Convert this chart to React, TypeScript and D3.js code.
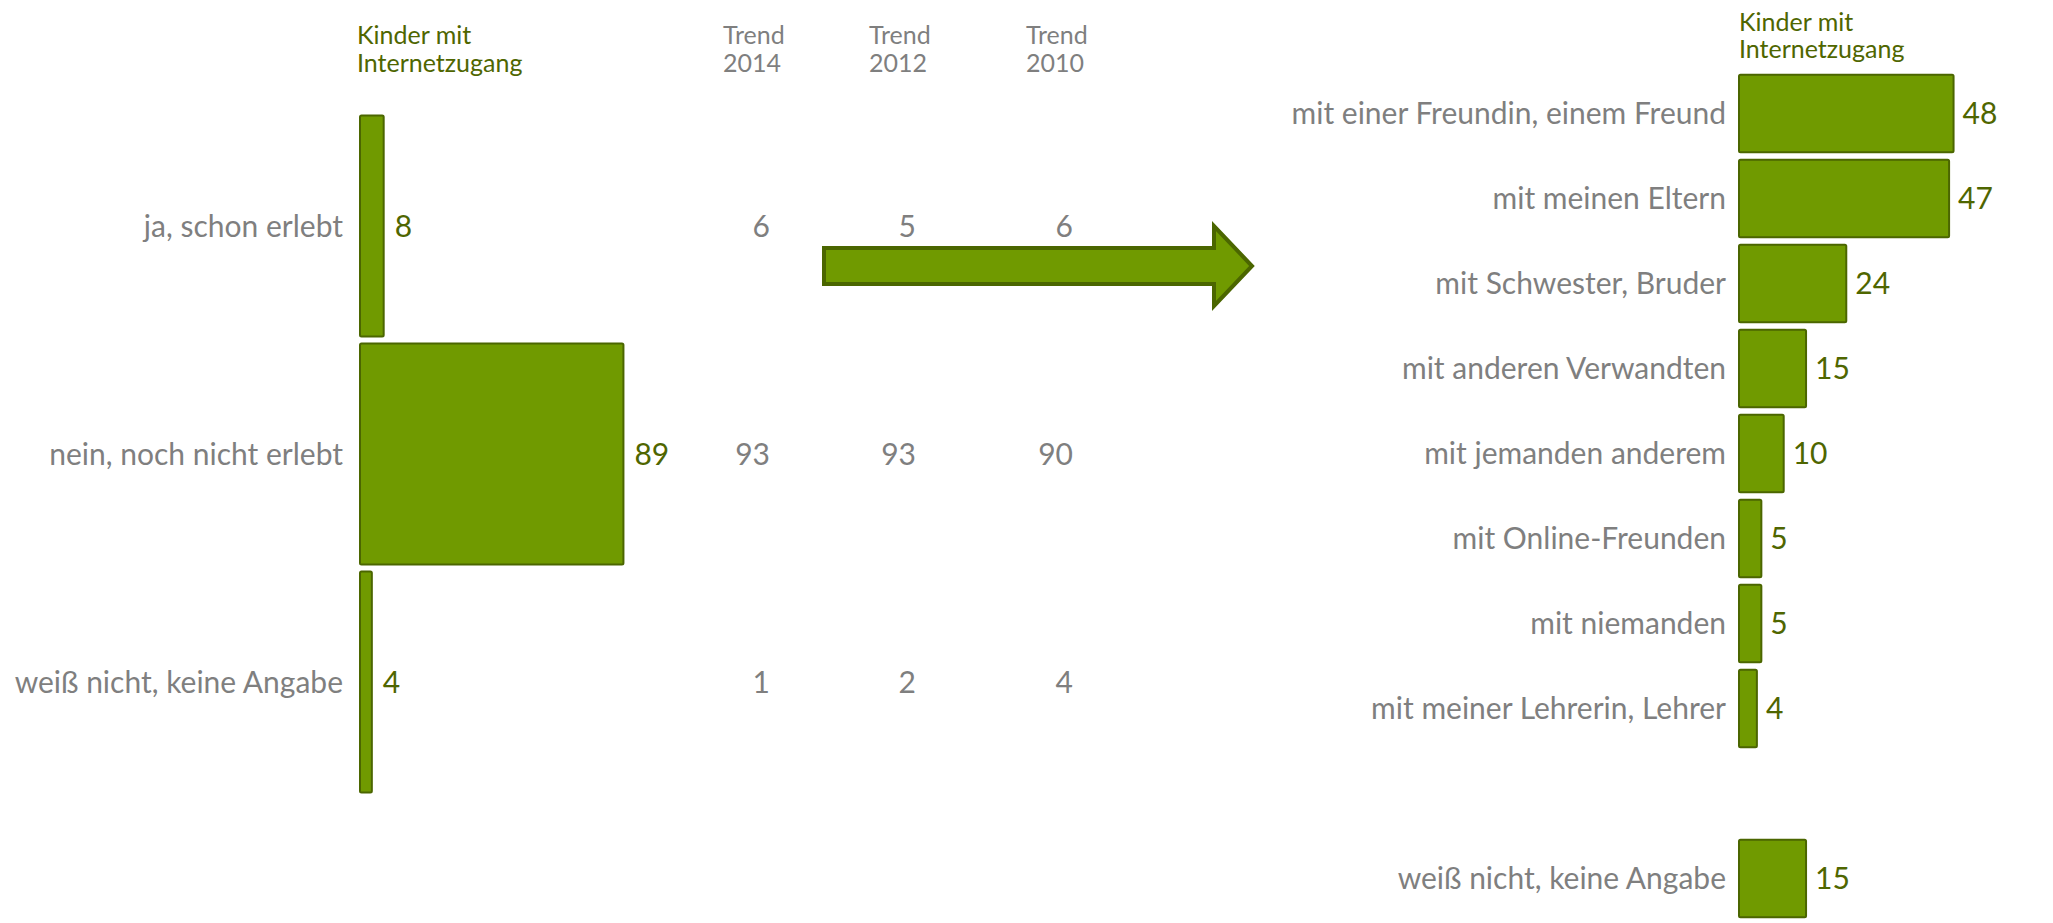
import React from 'react';
import * as d3 from 'd3';

// Linke Seite: schon erlebt?
const leftCategories = ['ja, schon erlebt', 'nein, noch nicht erlebt', 'weiß nicht, keine Angabe'];
const leftValues = [8, 89, 4];

const trendYears = ['2014', '2012', '2010'];
const trend2014 = [6, 93, 1];
const trend2012 = [5, 93, 2];
const trend2010 = [6, 90, 4];
const trendSeries = [trend2014, trend2012, trend2010];

// Rechte Seite: mit wem gesprochen
const rightCategories = [
  'mit einer Freundin, einem Freund',
  'mit meinen Eltern',
  'mit Schwester, Bruder',
  'mit anderen Verwandten',
  'mit jemanden anderem',
  'mit Online-Freunden',
  'mit niemanden',
  'mit meiner Lehrerin, Lehrer',
  'weiß nicht, keine Angabe',
];
const rightValues = [48, 47, 24, 15, 10, 5, 5, 4, 15];

const headerLines = ['Kinder mit', 'Internetzugang'];

const W = 2053;
const H = 923;
const FILL = '#709A00';
const STROKE = '#4B6600';
const DARK = '#4F6600';
const GREY = '#7F7F7F';
const FONT = 'Lato, "Open Sans", sans-serif';
const HEAD_SIZE = 25;

const GAP = '__gap';

const App: React.FC = () => {
  // Skalen links
  const xL = d3.scaleLinear().domain([0, 100]).range([360, 656]);
  const yL = d3.scaleBand<string>()
    .domain(leftCategories)
    .range([112, 796])
    .paddingInner(0.03)
    .paddingOuter(0.015);

  // Trend-Spalten (linke Kante der Kopfzeile)
  const trendX = d3.scaleOrdinal<string, number>().domain(trendYears).range([723, 869, 1026]);

  // Skalen rechts
  const rightDomain = [...rightCategories.slice(0, 8), GAP, rightCategories[8]];
  const xR = d3.scaleLinear().domain([0, 100]).range([1739, 2186]);
  const yR = d3.scaleBand<string>()
    .domain(rightDomain)
    .range([71, 921])
    .paddingInner(0.09)
    .paddingOuter(0.045);

  const arrow = d3.path();
  arrow.moveTo(824, 248);
  arrow.lineTo(1214, 248);
  arrow.lineTo(1214, 226);
  arrow.lineTo(1252, 266);
  arrow.lineTo(1214, 306);
  arrow.lineTo(1214, 284);
  arrow.lineTo(824, 284);
  arrow.closePath();

  return (
    <svg
      width={W}
      height={H}
      viewBox={`0 0 ${W} ${H}`}
      style={{ position: 'absolute', left: 0, top: 0, display: 'block', background: '#fff' }}
      fontFamily={FONT}
    >
      {/* Kopfzeile links */}
      <text x={357} y={44} fill={DARK} fontSize={HEAD_SIZE}>
        {headerLines.map((l, i) => (
          <tspan key={l} x={357} y={44 + i * 28}>{l}</tspan>
        ))}
      </text>
      {trendYears.map(yr => (
        <text key={yr} x={trendX(yr)} y={44} fill={GREY} fontSize={HEAD_SIZE}>
          <tspan x={trendX(yr)} y={44}>Trend</tspan>
          <tspan x={trendX(yr)} y={72}>{yr}</tspan>
        </text>
      ))}

      {/* Balken links */}
      <g>
        {leftCategories.map((c, i) => {
          const y0 = yL(c)!;
          const cy = y0 + yL.bandwidth() / 2;
          return (
            <g key={c}>
              <rect
                x={xL(0)}
                y={y0}
                width={xL(leftValues[i]) - xL(0)}
                height={yL.bandwidth()}
                fill={FILL}
                stroke={STROKE}
                strokeWidth={2}
                rx={1.5}
              />
              <text x={xL(0) - 17} y={cy} dy="0.36em" textAnchor="end" fill={GREY} fontSize={30}>{c}</text>
              <text x={xL(leftValues[i]) + 11} y={cy} dy="0.36em" fill={DARK} fontSize={30}>{leftValues[i]}</text>
              {trendYears.map((yr, j) => (
                <text key={yr} x={trendX(yr) + 47} y={cy} dy="0.36em" textAnchor="end" fill={GREY} fontSize={30}>
                  {trendSeries[j][i]}
                </text>
              ))}
            </g>
          );
        })}
      </g>

      {/* Pfeil */}
      <path d={arrow.toString()} fill={FILL} stroke={STROKE} strokeWidth={4} strokeLinejoin="miter" />

      {/* Kopfzeile rechts */}
      <text x={1739} y={31} fill={DARK} fontSize={HEAD_SIZE}>
        {headerLines.map((l, i) => (
          <tspan key={l} x={1739} y={31 + i * 27}>{l}</tspan>
        ))}
      </text>

      {/* Balken rechts */}
      <g>
        {rightCategories.map((c, i) => {
          const key = i === 8 ? rightDomain[9] : rightDomain[i];
          const y0 = yR(key)!;
          const cy = y0 + yR.bandwidth() / 2;
          return (
            <g key={c + i}>
              <rect
                x={xR(0)}
                y={y0}
                width={xR(rightValues[i]) - xR(0)}
                height={yR.bandwidth()}
                fill={FILL}
                stroke={STROKE}
                strokeWidth={2}
                rx={1.5}
              />
              <text x={xR(0) - 13} y={cy} dy="0.36em" textAnchor="end" fill={GREY} fontSize={30}>{c}</text>
              <text x={xR(rightValues[i]) + 9} y={cy} dy="0.36em" fill={DARK} fontSize={30}>{rightValues[i]}</text>
            </g>
          );
        })}
      </g>
    </svg>
  );
};

export default App;
